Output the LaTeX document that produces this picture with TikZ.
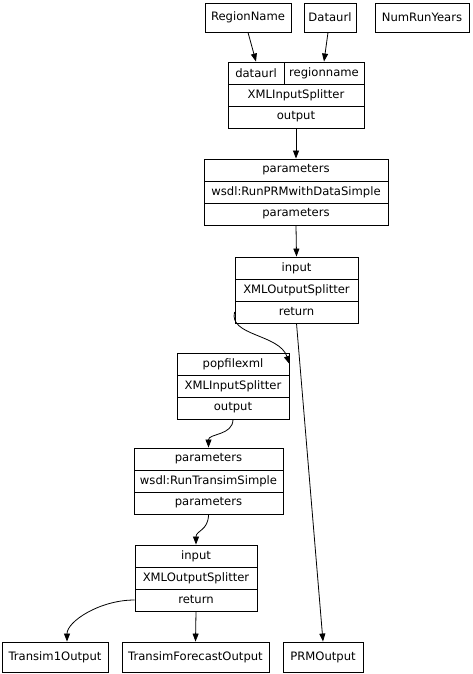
\documentclass[tikz,border=0pt]{standalone}
\usepackage{fontspec}
\setmainfont{DejaVu Sans}
\usetikzlibrary{positioning,arrows.meta,calc}

\begin{document}
\begin{tikzpicture}[x=1pt,y=-1pt,
  box/.style={rectangle,draw,line width=0.9pt,inner sep=0pt,minimum height=29pt,font=\fontsize{11.6}{13}\selectfont},
  fld/.style={rectangle,draw,line width=0.9pt,inner sep=0pt,minimum height=22pt,font=\fontsize{11.6}{13}\selectfont},
  arr/.style={-{Triangle[length=8pt,width=6pt]},line width=0.8pt}
]
\useasboundingbox (0,0) rectangle (472,674);
% inputs
\node[box,minimum width=86pt] (rname) at (248,17.5) {RegionName};
\node[box,minimum width=52pt] (durl) at (330,17.5) {Dataurl};
\node[box,minimum width=94pt] (nyears) at (422,17.5) {NumRunYears};
% first input splitter
\node[fld,minimum width=56pt] (isp1a) at (256,73) {dataurl};
\node[fld,minimum width=80pt] (isp1b) at (324,73) {regionname};
\node[fld,minimum width=136pt] (isp1) at (296,95) {XMLInputSplitter};
\node[fld,minimum width=136pt] (isp1out) at (296,117) {output};
% PRM service
\node[fld,minimum width=184pt] (prmin) at (296,170) {parameters};
\node[fld,minimum width=184pt] (prm) at (296,192) {wsdl:RunPRMwithDataSimple};
\node[fld,minimum width=184pt] (prmout) at (296,214) {parameters};
% first output splitter
\node[fld,minimum width=123pt] (osp1in) at (296.5,268) {input};
\node[fld,minimum width=123pt] (osp1) at (296.5,290) {XMLOutputSplitter};
\node[fld,minimum width=123pt] (osp1ret) at (296.5,312) {return};
% second input splitter
\node[fld,minimum width=112pt] (pfxin) at (233,364) {popfilexml};
\node[fld,minimum width=112pt] (isp2) at (233,386) {XMLInputSplitter};
\node[fld,minimum width=112pt] (isp2out) at (233,408) {output};
% Transim service
\node[fld,minimum width=149pt] (trin) at (208.5,459) {parameters};
\node[fld,minimum width=149pt] (tr) at (208.5,481) {wsdl:RunTransimSimple};
\node[fld,minimum width=149pt] (trout) at (208.5,503) {parameters};
% second output splitter
\node[fld,minimum width=122pt] (osp2in) at (196,556) {input};
\node[fld,minimum width=122pt] (osp2) at (196,578) {XMLOutputSplitter};
\node[fld,minimum width=122pt] (osp2ret) at (196,600) {return};
% outputs
\node[box,minimum width=106pt,minimum height=30pt] (t1out) at (55,657) {Transim1Output};
\node[box,minimum width=147pt,minimum height=30pt] (tfout) at (195.5,657) {TransimForecastOutput};
\node[box,minimum width=80pt,minimum height=30pt] (prmres) at (323,657) {PRMOutput};

\draw[arr] (rname.south) -- (isp1a.north);
\draw[arr] ([xshift=-2pt]durl.south) -- (isp1b.north);
\draw[arr] (isp1out.south) -- (prmin.north);
\draw[arr] (prmout.south) -- (osp1in.north);
\draw[arr] (osp1ret.west) .. controls +(-6,24) and +(-10,-30) .. (pfxin.east);
\draw[arr] (osp1ret.south) -- (prmres.north);
\draw[arr] (isp2out.south) .. controls +(0,16) and +(0,-14) .. (trin.north);
\draw[arr] (trout.south) .. controls +(0,16) and +(0,-14) .. (osp2in.north);
\draw[arr] (osp2ret.west) .. controls +(-35,0) and +(0,-20) .. ([xshift=12pt]t1out.north);
\draw[arr] (osp2ret.south) -- (tfout.north);
\end{tikzpicture}
\end{document}
